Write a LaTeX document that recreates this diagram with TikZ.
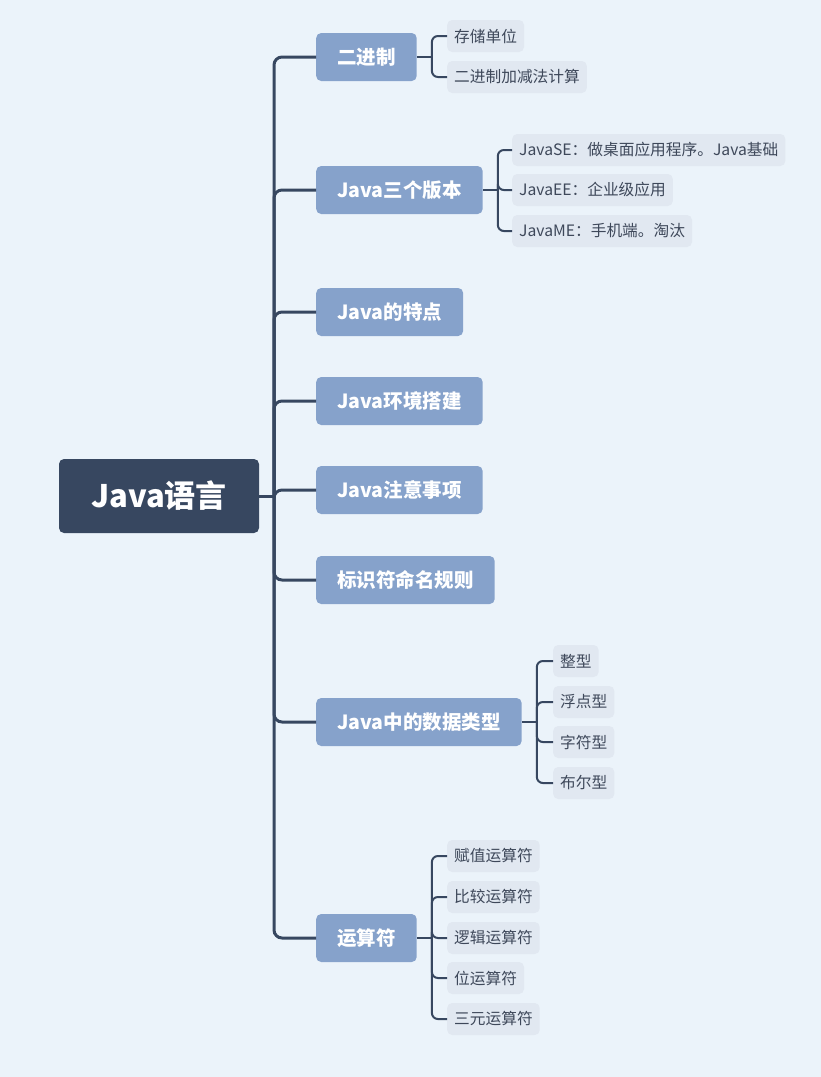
\documentclass[tikz,border=0pt]{standalone}
\usepackage{fontspec}
\setmainfont{Noto Sans CJK SC}
\usetikzlibrary{positioning, calc, backgrounds}
\definecolor{cDark}{RGB}{55,71,96}
\definecolor{cMain}{RGB}{134,162,203}
\definecolor{cLeaf}{RGB}{225,232,241}
\definecolor{cBg}{RGB}{235,243,250}
\definecolor{cText}{RGB}{62,72,90}

\begin{document}
\begin{tikzpicture}[x=1pt, y=-1pt,
            root/.style={fill=cDark, text=white, rounded corners=5pt, minimum width=200pt, minimum height=74pt, inner sep=0pt, font=\fontsize{31}{36}\selectfont\bfseries},
            br/.style={fill=cMain, text=white, rounded corners=5pt, anchor=west, minimum height=48pt, inner xsep=21pt, inner ysep=0pt, font=\fontsize{19.5}{22}\selectfont\bfseries},
            leaf/.style={fill=cLeaf, text=cText, rounded corners=5pt, anchor=west, minimum height=32pt, inner xsep=7pt, inner ysep=0pt, font=\fontsize{15.7}{18}\selectfont},
            trunk/.style={draw=cDark, line width=3pt, rounded corners=8pt},
            twig/.style={draw=cDark, line width=2pt, rounded corners=6pt}]
            \useasboundingbox (0,0) rectangle (821,1077);
            \fill[cBg] (0,0) rectangle (821,1077);
            % root
            \node[root] (root) at (159,496) {Java语言};
            \coordinate (tj) at (274,496);
            % main branches
            \node[br] (b1) at (316,57)  {二进制};
            \node[br] (b2) at (316,190) {Java三个版本};
            \node[br] (b3) at (316,312) {Java的特点};
            \node[br] (b4) at (316,401) {Java环境搭建};
            \node[br] (b5) at (316,490) {Java注意事项};
            \node[br] (b6) at (316,580) {标识符命名规则};
            \node[br] (b7) at (316,722) {Java中的数据类型};
            \node[br] (b8) at (316,938) {运算符};
            % leaves
            \node[leaf] (l11) at (447,36)  {存储单位};
            \node[leaf] (l12) at (447,77)  {二进制加减法计算};
            \node[leaf] (l21) at (512,150) {JavaSE：做桌面应用程序。Java基础};
            \node[leaf] (l22) at (512,190) {JavaEE：企业级应用};
            \node[leaf] (l23) at (512,231) {JavaME：手机端。淘汰};
            \node[leaf] (l71) at (553,661) {整型};
            \node[leaf] (l72) at (553,702) {浮点型};
            \node[leaf] (l73) at (553,742) {字符型};
            \node[leaf] (l74) at (553,783) {布尔型};
            \node[leaf] (l81) at (447,856)  {赋值运算符};
            \node[leaf] (l82) at (447,897)  {比较运算符};
            \node[leaf] (l83) at (447,938)  {逻辑运算符};
            \node[leaf] (l84) at (447,978)  {位运算符};
            \node[leaf] (l85) at (447,1019) {三元运算符};
            % connectors
            \draw[trunk] (root.east) -- (tj);
            \foreach \b in {b1,b2,b3,b4,b5,b6,b7,b8}
                \draw[trunk] (tj) |- (\b.west);
            \coordinate (j1) at ($(b1.east)+(15,0)$);
            \coordinate (j2) at ($(b2.east)+(15,0)$);
            \coordinate (j7) at ($(b7.east)+(15,0)$);
            \coordinate (j8) at ($(b8.east)+(15,0)$);
            \draw[twig] (b1.east) -- (j1);
            \draw[twig] (b2.east) -- (j2);
            \draw[twig] (b7.east) -- (j7);
            \draw[twig] (b8.east) -- (j8);
            \foreach \l in {l11,l12} \draw[twig] (j1) |- (\l.west);
            \foreach \l in {l21,l22,l23} \draw[twig] (j2) |- (\l.west);
            \foreach \l in {l71,l72,l73,l74} \draw[twig] (j7) |- (\l.west);
            \foreach \l in {l81,l82,l83,l84,l85} \draw[twig] (j8) |- (\l.west);
        \end{tikzpicture}
\end{document}
